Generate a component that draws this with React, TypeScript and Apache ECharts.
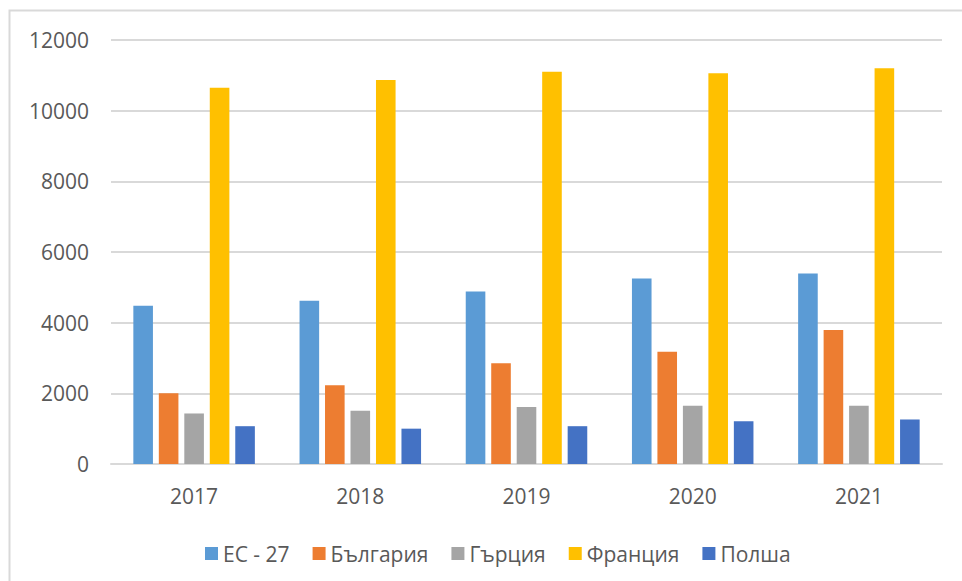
import React, { useEffect, useRef } from "react";
import * as echarts from "echarts";

const years = ["2017", "2018", "2019", "2020", "2021"];
const seriesNames = ["ЕС - 27", "България", "Гърция", "Франция", "Полша"];
const eu27 = [4480, 4620, 4880, 5250, 5390];
const bulgaria = [2000, 2230, 2850, 3180, 3790];
const greece = [1430, 1510, 1610, 1650, 1650];
const france = [10650, 10870, 11100, 11060, 11200];
const poland = [1070, 1000, 1070, 1210, 1260];
const colors = ["#5B9BD5", "#ED7D31", "#A5A5A5", "#FFC000", "#4472C4"];

const FONT = "'Open Sans', 'Noto Sans', sans-serif";
const TEXT = "#595959";

export default function App() {
  const ref = useRef<HTMLDivElement>(null);

  useEffect(() => {
    if (!ref.current) return;
    const chart = echarts.init(ref.current, undefined, { renderer: "svg" });
    const values = [eu27, bulgaria, greece, france, poland];

    chart.setOption({
      animation: false,
      backgroundColor: "#ffffff",
      textStyle: { fontFamily: FONT },
      graphic: [
        {
          type: "rect",
          shape: { x: 9.5, y: 10.5, width: 1000, height: 1000 },
          style: { fill: "none", stroke: "#D9D9D9", lineWidth: 2 },
          silent: true,
        },
      ],
      grid: { left: 111, right: 20, top: 40, bottom: 117, containLabel: false },
      legend: {
        data: seriesNames,
        left: 200,
        top: 538,
        icon: "rect",
        itemWidth: 13,
        itemHeight: 13,
        itemGap: 23,
        textStyle: { color: TEXT, fontSize: 21, fontFamily: FONT },
      },
      xAxis: {
        type: "category",
        data: years,
        axisLine: { lineStyle: { color: "#D9D9D9", width: 2 } },
        axisTick: { show: false },
        axisLabel: { color: TEXT, fontSize: 21, fontFamily: FONT, margin: 21 },
      },
      yAxis: {
        type: "value",
        min: 0,
        max: 12000,
        interval: 2000,
        axisLine: { show: false },
        axisTick: { show: false },
        axisLabel: {
          color: TEXT,
          fontSize: 21,
          fontFamily: FONT,
          margin: 22,
          formatter: (v: number) => String(v),
        },
        splitLine: { lineStyle: { color: "#D9D9D9", width: 2 } },
      },
      series: seriesNames.map((name, i) => ({
        name,
        type: "bar",
        data: values[i],
        barWidth: 19.6,
        barGap: "30%",
        itemStyle: { color: colors[i] },
      })),
    });

    return () => chart.dispose();
  }, []);

  return (
    <div
      ref={ref}
      style={{ position: "fixed", left: 0, top: 0, width: 962, height: 581 }}
    />
  );
}
